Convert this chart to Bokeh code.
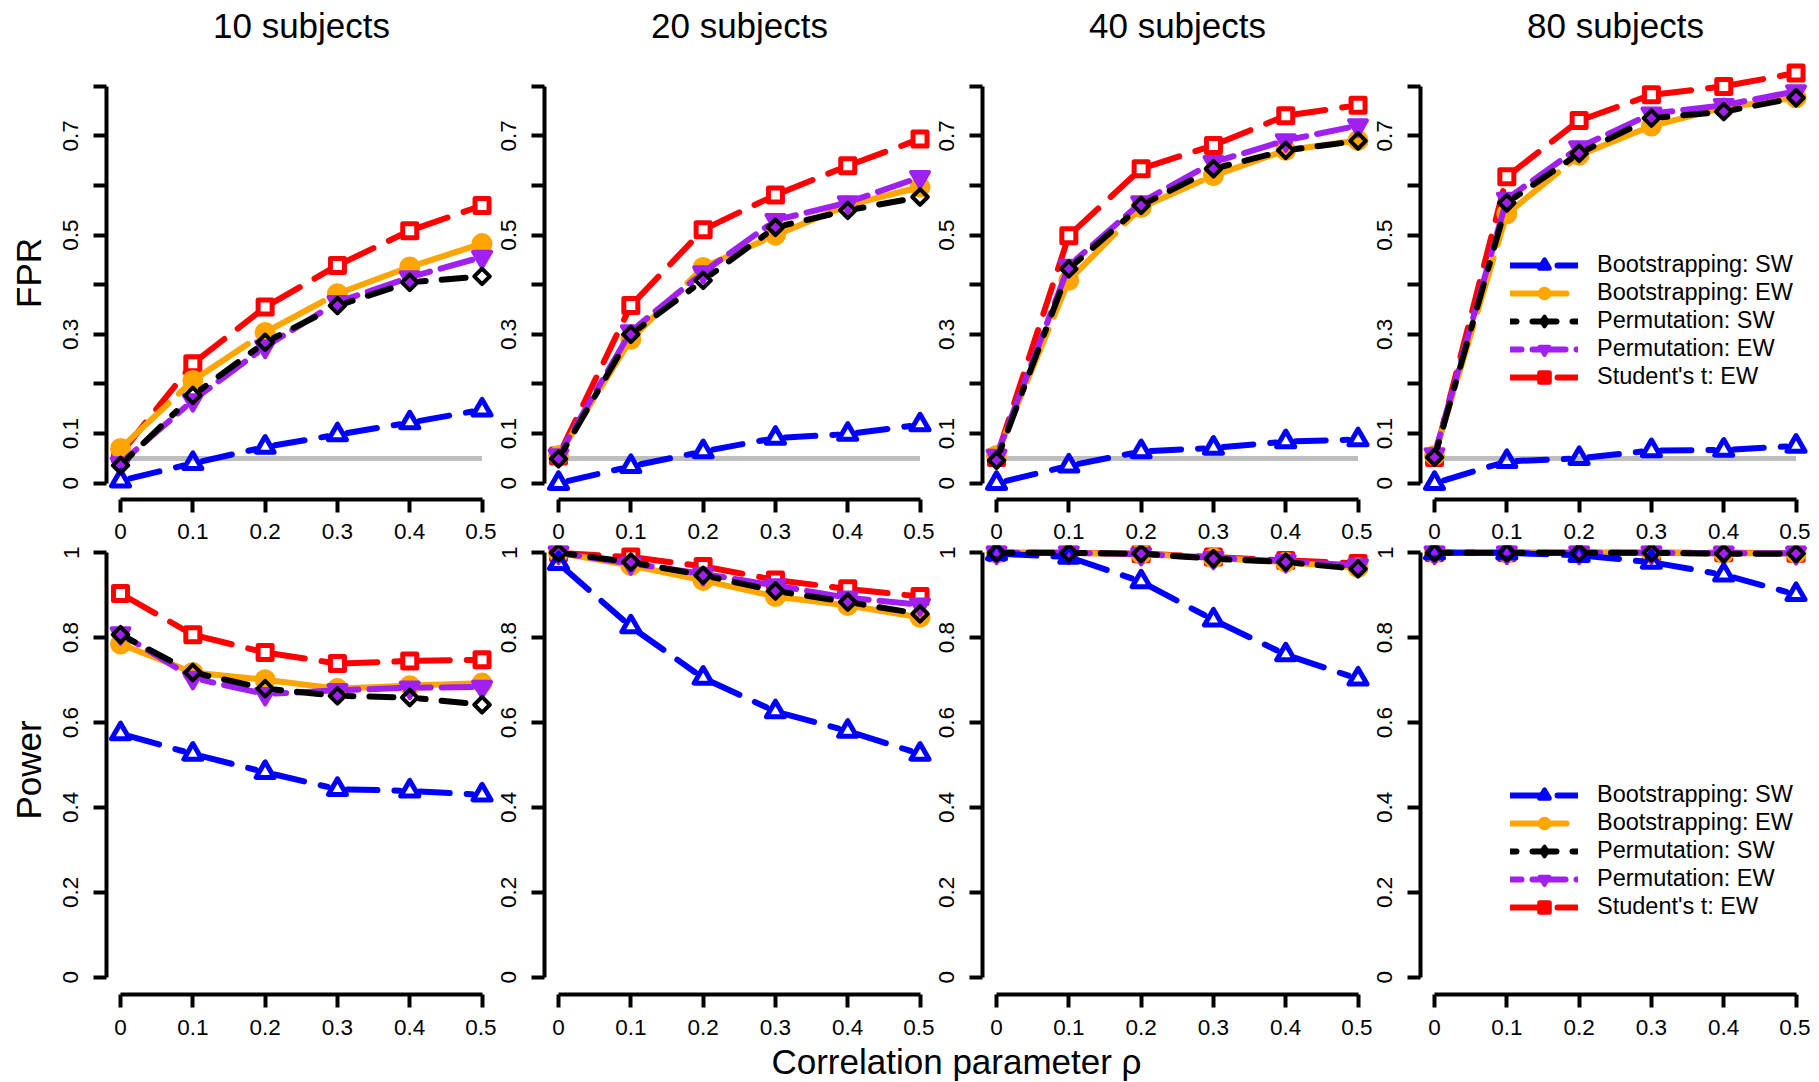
import math

from bokeh.core.properties import value
from bokeh.embed import file_html
from bokeh.layouts import column, row
from bokeh.models import FixedTicker, Legend, LegendItem, Range1d
from bokeh.plotting import figure
from bokeh.resources import INLINE

FONT = "Liberation Sans"

# ---------------------------------------------------------------- data
rho = [0.0, 0.1, 0.2, 0.3, 0.4, 0.5]
subjects = [10, 20, 40, 80]
methods = ["Bootstrapping: SW", "Bootstrapping: EW", "Permutation: SW",
           "Permutation: EW", "Student's t: EW"]
nominal_level = 0.05

# false positive rate, one row per number of subjects (10, 20, 40, 80)
fpr_boot_sw = [
    [0.005, 0.040, 0.073, 0.098, 0.122, 0.148],
    [0.000, 0.034, 0.064, 0.091, 0.099, 0.118],
    [0.000, 0.035, 0.064, 0.071, 0.084, 0.088],
    [0.000, 0.044, 0.050, 0.066, 0.067, 0.075],
]
fpr_boot_ew = [
    [0.070, 0.207, 0.304, 0.382, 0.436, 0.483],
    [0.056, 0.290, 0.435, 0.500, 0.560, 0.597],
    [0.056, 0.409, 0.556, 0.620, 0.671, 0.691],
    [0.056, 0.543, 0.661, 0.720, 0.757, 0.777],
]
fpr_perm_sw = [
    [0.036, 0.177, 0.284, 0.358, 0.405, 0.417],
    [0.049, 0.300, 0.409, 0.516, 0.550, 0.577],
    [0.046, 0.432, 0.560, 0.634, 0.671, 0.690],
    [0.052, 0.565, 0.665, 0.736, 0.749, 0.777],
]
fpr_perm_ew = [
    [0.040, 0.167, 0.275, 0.365, 0.415, 0.456],
    [0.056, 0.306, 0.425, 0.530, 0.566, 0.617],
    [0.055, 0.438, 0.566, 0.647, 0.691, 0.721],
    [0.058, 0.573, 0.677, 0.745, 0.762, 0.790],
]
fpr_student_ew = [
    [0.059, 0.241, 0.355, 0.439, 0.509, 0.560],
    [0.055, 0.358, 0.511, 0.581, 0.640, 0.694],
    [0.052, 0.499, 0.634, 0.681, 0.741, 0.762],
    [0.052, 0.618, 0.731, 0.783, 0.800, 0.827],
]

# power, one row per number of subjects
power_boot_sw = [
    [0.574, 0.526, 0.483, 0.443, 0.439, 0.430],
    [0.975, 0.826, 0.705, 0.626, 0.580, 0.526],
    [0.998, 0.990, 0.932, 0.842, 0.760, 0.703],
    [1.000, 1.000, 0.994, 0.978, 0.948, 0.902],
]
power_boot_ew = [
    [0.785, 0.718, 0.701, 0.680, 0.687, 0.693],
    [1.000, 0.970, 0.935, 0.897, 0.876, 0.848],
    [1.000, 1.000, 0.997, 0.988, 0.978, 0.965],
    [1.000, 1.000, 1.000, 1.000, 0.999, 0.999],
]
power_perm_sw = [
    [0.807, 0.718, 0.680, 0.663, 0.659, 0.642],
    [1.000, 0.978, 0.947, 0.910, 0.884, 0.856],
    [1.000, 1.000, 0.998, 0.986, 0.978, 0.962],
    [1.000, 1.000, 1.000, 1.000, 0.998, 0.998],
]
power_perm_ew = [
    [0.810, 0.705, 0.667, 0.676, 0.682, 0.684],
    [1.000, 0.975, 0.950, 0.923, 0.894, 0.878],
    [1.000, 1.000, 0.997, 0.988, 0.980, 0.970],
    [1.000, 1.000, 1.000, 1.000, 0.999, 0.999],
]
power_student_ew = [
    [0.904, 0.807, 0.765, 0.739, 0.745, 0.748],
    [1.000, 0.990, 0.968, 0.936, 0.915, 0.897],
    [1.000, 1.000, 0.998, 0.990, 0.982, 0.975],
    [1.000, 1.000, 1.000, 1.000, 1.000, 0.999],
]

fpr_series = [fpr_boot_sw, fpr_boot_ew, fpr_perm_sw, fpr_perm_ew, fpr_student_ew]
power_series = [power_boot_sw, power_boot_ew, power_perm_sw, power_perm_ew, power_student_ew]

# ---------------------------------------------------------------- styles
COLORS = ["#0000FF", "#FFA500", "#000000", "#A020F0", "#FF0000"]
DASHES = ["30 17", "56 14", "6 16 24 16", "11 11 33 11", "30 17"]
MARKERS = ["triangle", "circle", "square", "inverted_triangle", "square"]
SIZES = [18, 17, 11, 18, 14]
ANGLES = [0.0, 0.0, math.pi / 4, 0.0, 0.0]
MARKER_LW = [5.0, 4.0, 4.0, 4.0, 5.0]
HOLLOW = [True, False, True, False, True]      # open symbols in the panels
KEY_MARKERS = ["triangle", "circle", "diamond", "inverted_triangle", "square"]
KEY_SIZES = [18, 17, 19, 18, 14]
KEY_HOLLOW = [False, False, True, False, False]
DRAW_ORDER = [4, 1, 3, 0, 2]
LINE_W = 6
GAP_PX = 10   # lines stop short of each symbol, as with R's type = "b"

TICK_FONT = "22.5px"
BIG_FONT = "35px"

FRAME_W = 390
X_LO, X_HI = -0.0194, 0.52
TOP_FRAME_H, TOP_Y = 453, (-0.0329, 0.8804)
BOT_FRAME_H, BOT_Y = 449, (-0.0408, 1.0172)
TOTAL_W = 106 + FRAME_W + 3 * (48 + FRAME_W)


def gapped_segments(xs, ys, sx, sy, gap):
    x0, y0, x1, y1 = [], [], [], []
    for i in range(len(xs) - 1):
        ddx, ddy = xs[i + 1] - xs[i], ys[i + 1] - ys[i]
        length = math.hypot(ddx * sx, ddy * sy)
        if length <= 2 * gap:
            continue
        t = gap / length
        x0.append(xs[i] + ddx * t)
        y0.append(ys[i] + ddy * t)
        x1.append(xs[i + 1] - ddx * t)
        y1.append(ys[i + 1] - ddy * t)
    return x0, y0, x1, y1


def style_axis(ax):
    ax.axis_line_width = 4
    ax.major_tick_line_width = 4
    ax.major_tick_out = 13
    ax.major_tick_in = 0
    ax.minor_tick_line_color = None
    ax.major_label_text_font = FONT
    ax.major_label_text_font_size = TICK_FONT
    ax.major_label_text_color = "black"
    ax.axis_line_color = "black"
    ax.major_tick_line_color = "black"


def make_panel(j, top):
    first = j == 0
    width = 106 + FRAME_W if first else 48 + FRAME_W
    if top:
        height, b_top, b_bot = 46 + TOP_FRAME_H + 46, 46, 46
        y_lo, y_hi = TOP_Y
    else:
        height, b_top, b_bot = BOT_FRAME_H + 46, 0, 46
        y_lo, y_hi = BOT_Y
    p = figure(width=width, height=height, title=f"{subjects[j]} subjects" if top else None,
               x_range=Range1d(X_LO, X_HI), y_range=Range1d(y_lo, y_hi),
               output_backend="svg", toolbar_location=None,
               min_border_left=106 if first else 48, min_border_right=0,
               min_border_top=b_top, min_border_bottom=b_bot)
    p.outline_line_color = None
    p.xgrid.visible = False
    p.ygrid.visible = False
    p.background_fill_color = "white"
    p.border_fill_color = "white"

    if top:
        p.title.align = "center"
        p.title.text_font = FONT
        p.title.text_font_size = BIG_FONT
        p.title.text_font_style = "normal"
        p.title.text_color = "black"
        p.title.standoff = 3

    xa, ya = p.xaxis[0], p.yaxis[0]
    style_axis(xa)
    style_axis(ya)
    xa.bounds = (0, 0.5)
    xa.ticker = FixedTicker(ticks=rho)
    xa.major_label_overrides = {0.0: "0", 0.1: "0.1", 0.2: "0.2", 0.3: "0.3", 0.4: "0.4", 0.5: "0.5"}
    xa.major_label_standoff = 11 if top else 12
    ya.major_label_orientation = "vertical"
    ya.major_label_standoff = 15
    if top:
        ya.bounds = (0, 0.8)
        ya.ticker = FixedTicker(ticks=[0.0, 0.1, 0.2, 0.3, 0.4, 0.5, 0.6, 0.7, 0.8])
        ya.major_label_overrides = {0.0: "0", 0.1: "0.1", 0.2: "", 0.3: "0.3", 0.4: "",
                                    0.5: "0.5", 0.6: "", 0.7: "0.7", 0.8: ""}
    else:
        ya.bounds = (0, 1)
        ya.ticker = FixedTicker(ticks=[0.0, 0.2, 0.4, 0.6, 0.8, 1.0])
        ya.major_label_overrides = {0.0: "0", 0.2: "0.2", 0.4: "0.4", 0.6: "0.6",
                                    0.8: "0.8", 1.0: "1"}
    if first:
        ya.axis_label = "FPR" if top else "Power"
        ya.axis_label_text_font = FONT
        ya.axis_label_text_font_size = BIG_FONT
        ya.axis_label_text_font_style = "normal"
        ya.axis_label_text_color = "black"
        ya.axis_label_standoff = 13

    sx = FRAME_W / (X_HI - X_LO)
    sy = (TOP_FRAME_H if top else BOT_FRAME_H) / (y_hi - y_lo)

    if top:
        p.line([rho[0], rho[-1]], [nominal_level, nominal_level],
               line_color="#BEBEBE", line_width=5)

    series = fpr_series if top else power_series
    seg_renderers = {}
    for k in DRAW_ORDER:
        ys = series[k][j]
        x0, y0, x1, y1 = gapped_segments(rho, ys, sx, sy, GAP_PX)
        seg_renderers[k] = p.segment(x0, y0, x1, y1, line_color=COLORS[k],
                                     line_width=LINE_W, line_dash=DASHES[k],
                                     line_cap="round")
        p.scatter(rho, ys, marker=MARKERS[k], size=SIZES[k], angle=ANGLES[k],
                  line_color=COLORS[k], line_width=MARKER_LW[k], line_join="round",
                  fill_color=COLORS[k], fill_alpha=0.0 if HOLLOW[k] else 1.0)

    if j == len(subjects) - 1:
        items = []
        nan = float("nan")
        for k, name in enumerate(methods):
            # a single undefined point: nothing lands in the panel, only the key symbol
            key = p.scatter([nan], [nan], marker=KEY_MARKERS[k], size=KEY_SIZES[k],
                            line_color=COLORS[k], line_width=MARKER_LW[k],
                            line_join="round", fill_color=COLORS[k],
                            fill_alpha=0.0 if KEY_HOLLOW[k] else 1.0)
            items.append(LegendItem(label=name, renderers=[seg_renderers[k], key]))
        legend = Legend(items=items, location=(90, 109 if top else 74),
                        glyph_width=68, glyph_height=24, label_height=24,
                        label_standoff=19, spacing=1, padding=0, margin=0,
                        border_line_color=None, background_fill_alpha=0.0,
                        label_text_font=FONT, label_text_font_size="23.5px",
                        label_text_color="black")
        p.add_layout(legend)
    return p


top_row = [make_panel(j, True) for j in range(len(subjects))]
bottom_row = [make_panel(j, False) for j in range(len(subjects))]

footer = figure(width=TOTAL_W, height=42, title=None,
                x_range=Range1d(0, TOTAL_W), y_range=Range1d(0, 42),
                output_backend="svg", toolbar_location=None,
                x_axis_location=None, y_axis_location=None, min_border=0)
footer.outline_line_color = None
footer.xgrid.visible = False
footer.ygrid.visible = False
footer.text(x=[956], y=[21], text=["Correlation parameter \u03c1"],
            text_font=value(FONT), text_font_size=BIG_FONT,
            text_align="center", text_baseline="middle", text_color="black")

layout = column(row(*top_row), row(*bottom_row), footer)

with open("out.html", "w") as f:
    f.write(file_html(layout, INLINE, title="FPR and power"))
